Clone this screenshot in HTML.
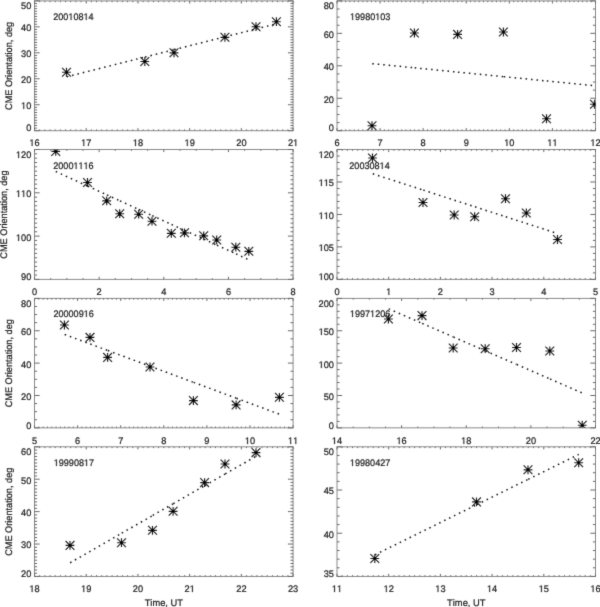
<!DOCTYPE html>
<html><head><meta charset="utf-8"><title>CME Orientation</title><style>
html,body{margin:0;padding:0;background:#fff;}
body{width:600px;height:607px;overflow:hidden;}
svg{display:block;}
#w{width:600px;height:607px;will-change:transform;}
text{font-family:"Liberation Sans",sans-serif;fill:#222;stroke:#222;stroke-width:0.22px;text-rendering:geometricPrecision;font-kerning:none;}
.ax{fill:none;stroke:#8a8a8a;stroke-width:1.0;}
.tk{fill:none;stroke:#6a6a6a;stroke-width:1.0;}
.h{fill-opacity:0;stroke-opacity:0;}
.g1{fill:#222;stroke:#222;stroke-width:0.22px;}
.xl{font-size:9.5px;text-anchor:middle;}
.yl{font-size:9.5px;text-anchor:end;}
.tt{font-size:9.5px;}
.at{font-size:9.6px;text-anchor:middle;}
.sc{fill:#000;}
.st{fill:none;stroke:#222;stroke-width:1.15;}
.dt{fill:none;stroke:#111;stroke-width:1.5;stroke-dasharray:1.5 4.0;}
</style></head>
<body><div id="w"><svg width="600" height="607" viewBox="0 0 600 607">
<defs><filter id="bl" filterUnits="userSpaceOnUse" x="0" y="0" width="600" height="607"><feConvolveMatrix order="3" kernelMatrix="0.0113 0.0838 0.0113 0.0838 0.6193 0.0838 0.0113 0.0838 0.0113" edgeMode="duplicate"/></filter><clipPath id="c0"><rect x="34.5" y="0.9" width="258.6" height="129.8"/></clipPath><clipPath id="c1"><rect x="337" y="0.9" width="258.5" height="129.8"/></clipPath><clipPath id="c2"><rect x="34.5" y="149.5" width="258.6" height="129.9"/></clipPath><clipPath id="c3"><rect x="337" y="149.5" width="258.5" height="129.9"/></clipPath><clipPath id="c4"><rect x="34.5" y="298.4" width="258.6" height="129.45"/></clipPath><clipPath id="c5"><rect x="337" y="298.4" width="258.5" height="129.45"/></clipPath><clipPath id="c6"><rect x="34.5" y="446.8" width="258.6" height="129.65"/></clipPath><clipPath id="c7"><rect x="337" y="446.8" width="258.5" height="129.65"/></clipPath></defs>
<rect width="600" height="607" fill="#fff"/>
<g filter="url(#bl)">
<rect x="34.5" y="0.9" width="258.6" height="129.8" class="ax"/><path d="M34.5 130.7v-2.6M34.5 0.9v2.6M39.67 130.7v-1.3M39.67 0.9v1.3M44.84 130.7v-1.3M44.84 0.9v1.3M50.02 130.7v-1.3M50.02 0.9v1.3M55.19 130.7v-1.3M55.19 0.9v1.3M60.36 130.7v-1.3M60.36 0.9v1.3M65.53 130.7v-1.3M65.53 0.9v1.3M70.7 130.7v-1.3M70.7 0.9v1.3M75.88 130.7v-1.3M75.88 0.9v1.3M81.05 130.7v-1.3M81.05 0.9v1.3M86.22 130.7v-2.6M86.22 0.9v2.6M91.39 130.7v-1.3M91.39 0.9v1.3M96.56 130.7v-1.3M96.56 0.9v1.3M101.74 130.7v-1.3M101.74 0.9v1.3M106.91 130.7v-1.3M106.91 0.9v1.3M112.08 130.7v-1.3M112.08 0.9v1.3M117.25 130.7v-1.3M117.25 0.9v1.3M122.42 130.7v-1.3M122.42 0.9v1.3M127.6 130.7v-1.3M127.6 0.9v1.3M132.77 130.7v-1.3M132.77 0.9v1.3M137.94 130.7v-2.6M137.94 0.9v2.6M143.11 130.7v-1.3M143.11 0.9v1.3M148.28 130.7v-1.3M148.28 0.9v1.3M153.46 130.7v-1.3M153.46 0.9v1.3M158.63 130.7v-1.3M158.63 0.9v1.3M163.8 130.7v-1.3M163.8 0.9v1.3M168.97 130.7v-1.3M168.97 0.9v1.3M174.14 130.7v-1.3M174.14 0.9v1.3M179.32 130.7v-1.3M179.32 0.9v1.3M184.49 130.7v-1.3M184.49 0.9v1.3M189.66 130.7v-2.6M189.66 0.9v2.6M194.83 130.7v-1.3M194.83 0.9v1.3M200 130.7v-1.3M200 0.9v1.3M205.18 130.7v-1.3M205.18 0.9v1.3M210.35 130.7v-1.3M210.35 0.9v1.3M215.52 130.7v-1.3M215.52 0.9v1.3M220.69 130.7v-1.3M220.69 0.9v1.3M225.86 130.7v-1.3M225.86 0.9v1.3M231.04 130.7v-1.3M231.04 0.9v1.3M236.21 130.7v-1.3M236.21 0.9v1.3M241.38 130.7v-2.6M241.38 0.9v2.6M246.55 130.7v-1.3M246.55 0.9v1.3M251.72 130.7v-1.3M251.72 0.9v1.3M256.9 130.7v-1.3M256.9 0.9v1.3M262.07 130.7v-1.3M262.07 0.9v1.3M267.24 130.7v-1.3M267.24 0.9v1.3M272.41 130.7v-1.3M272.41 0.9v1.3M277.58 130.7v-1.3M277.58 0.9v1.3M282.76 130.7v-1.3M282.76 0.9v1.3M287.93 130.7v-1.3M287.93 0.9v1.3M293.1 130.7v-2.6M293.1 0.9v2.6M34.5 130.7h5.17M293.1 130.7h-5.17M34.5 128.1h2.59M293.1 128.1h-2.59M34.5 125.51h2.59M293.1 125.51h-2.59M34.5 122.91h2.59M293.1 122.91h-2.59M34.5 120.32h2.59M293.1 120.32h-2.59M34.5 117.72h2.59M293.1 117.72h-2.59M34.5 115.12h2.59M293.1 115.12h-2.59M34.5 112.53h2.59M293.1 112.53h-2.59M34.5 109.93h2.59M293.1 109.93h-2.59M34.5 107.34h2.59M293.1 107.34h-2.59M34.5 104.74h5.17M293.1 104.74h-5.17M34.5 102.14h2.59M293.1 102.14h-2.59M34.5 99.55h2.59M293.1 99.55h-2.59M34.5 96.95h2.59M293.1 96.95h-2.59M34.5 94.36h2.59M293.1 94.36h-2.59M34.5 91.76h2.59M293.1 91.76h-2.59M34.5 89.16h2.59M293.1 89.16h-2.59M34.5 86.57h2.59M293.1 86.57h-2.59M34.5 83.97h2.59M293.1 83.97h-2.59M34.5 81.38h2.59M293.1 81.38h-2.59M34.5 78.78h5.17M293.1 78.78h-5.17M34.5 76.18h2.59M293.1 76.18h-2.59M34.5 73.59h2.59M293.1 73.59h-2.59M34.5 70.99h2.59M293.1 70.99h-2.59M34.5 68.4h2.59M293.1 68.4h-2.59M34.5 65.8h2.59M293.1 65.8h-2.59M34.5 63.2h2.59M293.1 63.2h-2.59M34.5 60.61h2.59M293.1 60.61h-2.59M34.5 58.01h2.59M293.1 58.01h-2.59M34.5 55.42h2.59M293.1 55.42h-2.59M34.5 52.82h5.17M293.1 52.82h-5.17M34.5 50.22h2.59M293.1 50.22h-2.59M34.5 47.63h2.59M293.1 47.63h-2.59M34.5 45.03h2.59M293.1 45.03h-2.59M34.5 42.44h2.59M293.1 42.44h-2.59M34.5 39.84h2.59M293.1 39.84h-2.59M34.5 37.24h2.59M293.1 37.24h-2.59M34.5 34.65h2.59M293.1 34.65h-2.59M34.5 32.05h2.59M293.1 32.05h-2.59M34.5 29.46h2.59M293.1 29.46h-2.59M34.5 26.86h5.17M293.1 26.86h-5.17M34.5 24.26h2.59M293.1 24.26h-2.59M34.5 21.67h2.59M293.1 21.67h-2.59M34.5 19.07h2.59M293.1 19.07h-2.59M34.5 16.48h2.59M293.1 16.48h-2.59M34.5 13.88h2.59M293.1 13.88h-2.59M34.5 11.28h2.59M293.1 11.28h-2.59M34.5 8.69h2.59M293.1 8.69h-2.59M34.5 6.09h2.59M293.1 6.09h-2.59M34.5 3.5h2.59M293.1 3.5h-2.59M34.5 0.9h5.17M293.1 0.9h-5.17" class="tk"/><g transform="matrix(0.97 0 0 1 34.5 146)"><text class="xl"><tspan class="h">1</tspan>6</text><path d="M-2.892 0.000L-2.892 -5.738L-4.367 -4.685L-4.367 -5.474L-2.823 -6.536L-2.053 -6.536L-2.053 0.000Z" class="g1"/></g><g transform="matrix(0.97 0 0 1 86.22 146)"><text class="xl"><tspan class="h">1</tspan>7</text><path d="M-2.892 0.000L-2.892 -5.738L-4.367 -4.685L-4.367 -5.474L-2.823 -6.536L-2.053 -6.536L-2.053 0.000Z" class="g1"/></g><g transform="matrix(0.97 0 0 1 137.94 146)"><text class="xl"><tspan class="h">1</tspan>8</text><path d="M-2.892 0.000L-2.892 -5.738L-4.367 -4.685L-4.367 -5.474L-2.823 -6.536L-2.053 -6.536L-2.053 0.000Z" class="g1"/></g><g transform="matrix(0.97 0 0 1 189.66 146)"><text class="xl"><tspan class="h">1</tspan>9</text><path d="M-2.892 0.000L-2.892 -5.738L-4.367 -4.685L-4.367 -5.474L-2.823 -6.536L-2.053 -6.536L-2.053 0.000Z" class="g1"/></g><text transform="matrix(0.97 0 0 1 241.38 146)" class="xl">20</text><g transform="matrix(0.97 0 0 1 293.1 146)"><text class="xl">2<tspan class="h">1</tspan></text><path d="M2.389 0.000L2.389 -5.738L0.914 -4.685L0.914 -5.474L2.458 -6.536L3.229 -6.536L3.229 0.000Z" class="g1"/></g><text transform="matrix(0.97 0 0 1 31.3 131.42)" class="yl">0</text><g transform="matrix(0.97 0 0 1 31.3 109)"><text class="yl"><tspan class="h">1</tspan>0</text><path d="M-8.174 0.000L-8.174 -5.738L-9.649 -4.685L-9.649 -5.474L-8.104 -6.536L-7.334 -6.536L-7.334 0.000Z" class="g1"/></g><text transform="matrix(0.97 0 0 1 31.3 83.2)" class="yl">20</text><text transform="matrix(0.97 0 0 1 31.3 57.24)" class="yl">30</text><text transform="matrix(0.97 0 0 1 31.3 31.28)" class="yl">40</text><text transform="matrix(0.97 0 0 1 31.3 9.02)" class="yl">50</text><g transform="matrix(0.955 0 0 1 53.25 20)"><text class="tt">200<tspan class="h">1</tspan>08<tspan class="h">1</tspan>4</text><path d="M18.233 0.000L18.233 -5.738L16.758 -4.685L16.758 -5.474L18.302 -6.536L19.072 -6.536L19.072 0.000ZM34.076 0.000L34.076 -5.738L32.601 -4.685L32.601 -5.474L34.146 -6.536L34.916 -6.536L34.916 0.000Z" class="g1"/></g><g clip-path="url(#c0)"><g class="dt" stroke-dashoffset="5.20"><line x1="66.5" y1="76.83" x2="144.8" y2="57.07"/><line x1="144.8" y1="57.07" x2="174" y2="49.71"/><line x1="174" y1="49.71" x2="224.9" y2="36.86"/><line x1="224.9" y1="36.86" x2="256" y2="29.02"/><line x1="256" y1="29.02" x2="276.4" y2="23.87"/></g><path d="M62.1 72.25h8.8M66.5 67.85v8.8M62.1 67.85l8.8 8.8M62.1 76.65l8.8 -8.8M140.4 61.5h8.8M144.8 57.1v8.8M140.4 57.1l8.8 8.8M140.4 65.9l8.8 -8.8M169.6 52.8h8.8M174 48.4v8.8M169.6 48.4l8.8 8.8M169.6 57.2l8.8 -8.8M220.5 37.3h8.8M224.9 32.9v8.8M220.5 32.9l8.8 8.8M220.5 41.7l8.8 -8.8M251.6 26.7h8.8M256 22.3v8.8M251.6 22.3l8.8 8.8M251.6 31.1l8.8 -8.8M272 21.7h8.8M276.4 17.3v8.8M272 17.3l8.8 8.8M272 26.1l8.8 -8.8" class="st"/><circle cx="66.5" cy="72.25" r="1.3" class="sc"/><circle cx="144.8" cy="61.5" r="1.3" class="sc"/><circle cx="174" cy="52.8" r="1.3" class="sc"/><circle cx="224.9" cy="37.3" r="1.3" class="sc"/><circle cx="256" cy="26.7" r="1.3" class="sc"/><circle cx="276.4" cy="21.7" r="1.3" class="sc"/></g><text transform="translate(11.85 65.9) rotate(-90) scale(0.956 1)" class="at">CME Orientation, deg</text>
<rect x="337" y="0.9" width="258.5" height="129.8" class="ax"/><path d="M337 130.7v-2.6M337 0.9v2.6M341.31 130.7v-1.3M341.31 0.9v1.3M345.62 130.7v-1.3M345.62 0.9v1.3M349.93 130.7v-1.3M349.93 0.9v1.3M354.23 130.7v-1.3M354.23 0.9v1.3M358.54 130.7v-1.3M358.54 0.9v1.3M362.85 130.7v-1.3M362.85 0.9v1.3M367.16 130.7v-1.3M367.16 0.9v1.3M371.47 130.7v-1.3M371.47 0.9v1.3M375.78 130.7v-1.3M375.78 0.9v1.3M380.08 130.7v-2.6M380.08 0.9v2.6M384.39 130.7v-1.3M384.39 0.9v1.3M388.7 130.7v-1.3M388.7 0.9v1.3M393.01 130.7v-1.3M393.01 0.9v1.3M397.32 130.7v-1.3M397.32 0.9v1.3M401.62 130.7v-1.3M401.62 0.9v1.3M405.93 130.7v-1.3M405.93 0.9v1.3M410.24 130.7v-1.3M410.24 0.9v1.3M414.55 130.7v-1.3M414.55 0.9v1.3M418.86 130.7v-1.3M418.86 0.9v1.3M423.17 130.7v-2.6M423.17 0.9v2.6M427.47 130.7v-1.3M427.47 0.9v1.3M431.78 130.7v-1.3M431.78 0.9v1.3M436.09 130.7v-1.3M436.09 0.9v1.3M440.4 130.7v-1.3M440.4 0.9v1.3M444.71 130.7v-1.3M444.71 0.9v1.3M449.02 130.7v-1.3M449.02 0.9v1.3M453.32 130.7v-1.3M453.32 0.9v1.3M457.63 130.7v-1.3M457.63 0.9v1.3M461.94 130.7v-1.3M461.94 0.9v1.3M466.25 130.7v-2.6M466.25 0.9v2.6M470.56 130.7v-1.3M470.56 0.9v1.3M474.87 130.7v-1.3M474.87 0.9v1.3M479.18 130.7v-1.3M479.18 0.9v1.3M483.48 130.7v-1.3M483.48 0.9v1.3M487.79 130.7v-1.3M487.79 0.9v1.3M492.1 130.7v-1.3M492.1 0.9v1.3M496.41 130.7v-1.3M496.41 0.9v1.3M500.72 130.7v-1.3M500.72 0.9v1.3M505.02 130.7v-1.3M505.02 0.9v1.3M509.33 130.7v-2.6M509.33 0.9v2.6M513.64 130.7v-1.3M513.64 0.9v1.3M517.95 130.7v-1.3M517.95 0.9v1.3M522.26 130.7v-1.3M522.26 0.9v1.3M526.57 130.7v-1.3M526.57 0.9v1.3M530.88 130.7v-1.3M530.88 0.9v1.3M535.18 130.7v-1.3M535.18 0.9v1.3M539.49 130.7v-1.3M539.49 0.9v1.3M543.8 130.7v-1.3M543.8 0.9v1.3M548.11 130.7v-1.3M548.11 0.9v1.3M552.42 130.7v-2.6M552.42 0.9v2.6M556.73 130.7v-1.3M556.73 0.9v1.3M561.03 130.7v-1.3M561.03 0.9v1.3M565.34 130.7v-1.3M565.34 0.9v1.3M569.65 130.7v-1.3M569.65 0.9v1.3M573.96 130.7v-1.3M573.96 0.9v1.3M578.27 130.7v-1.3M578.27 0.9v1.3M582.57 130.7v-1.3M582.57 0.9v1.3M586.88 130.7v-1.3M586.88 0.9v1.3M591.19 130.7v-1.3M591.19 0.9v1.3M595.5 130.7v-2.6M595.5 0.9v2.6M337 130.7h5.17M595.5 130.7h-5.17M337 122.59h2.58M595.5 122.59h-2.58M337 114.47h2.58M595.5 114.47h-2.58M337 106.36h2.58M595.5 106.36h-2.58M337 98.25h5.17M595.5 98.25h-5.17M337 90.14h2.58M595.5 90.14h-2.58M337 82.02h2.58M595.5 82.02h-2.58M337 73.91h2.58M595.5 73.91h-2.58M337 65.8h5.17M595.5 65.8h-5.17M337 57.69h2.58M595.5 57.69h-2.58M337 49.58h2.58M595.5 49.58h-2.58M337 41.46h2.58M595.5 41.46h-2.58M337 33.35h5.17M595.5 33.35h-5.17M337 25.24h2.58M595.5 25.24h-2.58M337 17.12h2.58M595.5 17.12h-2.58M337 9.01h2.58M595.5 9.01h-2.58M337 0.9h5.17M595.5 0.9h-5.17" class="tk"/><text transform="matrix(0.97 0 0 1 337 146)" class="xl">6</text><text transform="matrix(0.97 0 0 1 380.08 146)" class="xl">7</text><text transform="matrix(0.97 0 0 1 423.17 146)" class="xl">8</text><text transform="matrix(0.97 0 0 1 466.25 146)" class="xl">9</text><g transform="matrix(0.97 0 0 1 509.33 146)"><text class="xl"><tspan class="h">1</tspan>0</text><path d="M-2.892 0.000L-2.892 -5.738L-4.367 -4.685L-4.367 -5.474L-2.823 -6.536L-2.053 -6.536L-2.053 0.000Z" class="g1"/></g><g transform="matrix(0.97 0 0 1 552.42 146)"><text class="xl"><tspan class="h">1</tspan><tspan class="h">1</tspan></text><path d="M-2.892 0.000L-2.892 -5.738L-4.367 -4.685L-4.367 -5.474L-2.823 -6.536L-2.053 -6.536L-2.053 0.000ZM2.389 0.000L2.389 -5.738L0.914 -4.685L0.914 -5.474L2.458 -6.536L3.229 -6.536L3.229 0.000Z" class="g1"/></g><g transform="matrix(0.97 0 0 1 595.5 146)"><text class="xl"><tspan class="h">1</tspan>2</text><path d="M-2.892 0.000L-2.892 -5.738L-4.367 -4.685L-4.367 -5.474L-2.823 -6.536L-2.053 -6.536L-2.053 0.000Z" class="g1"/></g><text transform="matrix(0.97 0 0 1 334 131.42)" class="yl">0</text><text transform="matrix(0.97 0 0 1 334 102.67)" class="yl">20</text><text transform="matrix(0.97 0 0 1 334 70.22)" class="yl">40</text><text transform="matrix(0.97 0 0 1 334 37.77)" class="yl">60</text><text transform="matrix(0.97 0 0 1 334 9.02)" class="yl">80</text><g transform="matrix(0.955 0 0 1 350 20)"><text class="tt"><tspan class="h">1</tspan>9980<tspan class="h">1</tspan>03</text><path d="M2.389 0.000L2.389 -5.738L0.914 -4.685L0.914 -5.474L2.458 -6.536L3.229 -6.536L3.229 0.000ZM28.795 0.000L28.795 -5.738L27.320 -4.685L27.320 -5.474L28.865 -6.536L29.635 -6.536L29.635 0.000Z" class="g1"/></g><g clip-path="url(#c1)"><g class="dt" stroke-dashoffset="5.20"><line x1="372" y1="63.6" x2="414.4" y2="67.81"/><line x1="414.4" y1="67.81" x2="457.6" y2="72.1"/><line x1="457.6" y1="72.1" x2="503.4" y2="76.65"/><line x1="503.4" y1="76.65" x2="546.5" y2="80.93"/><line x1="546.5" y1="80.93" x2="595.5" y2="85.8"/></g><path d="M367.6 125.7h8.8M372 121.3v8.8M367.6 121.3l8.8 8.8M367.6 130.1l8.8 -8.8M410 33h8.8M414.4 28.6v8.8M410 28.6l8.8 8.8M410 37.4l8.8 -8.8M453.2 34.4h8.8M457.6 30v8.8M453.2 30l8.8 8.8M453.2 38.8l8.8 -8.8M499 32h8.8M503.4 27.6v8.8M499 27.6l8.8 8.8M499 36.4l8.8 -8.8M542.1 118.75h8.8M546.5 114.35v8.8M542.1 114.35l8.8 8.8M542.1 123.15l8.8 -8.8M590.1 104.25h8.8M594.5 99.85v8.8M590.1 99.85l8.8 8.8M590.1 108.65l8.8 -8.8" class="st"/><circle cx="372" cy="125.7" r="1.3" class="sc"/><circle cx="414.4" cy="33" r="1.3" class="sc"/><circle cx="457.6" cy="34.4" r="1.3" class="sc"/><circle cx="503.4" cy="32" r="1.3" class="sc"/><circle cx="546.5" cy="118.75" r="1.3" class="sc"/><circle cx="594.5" cy="104.25" r="1.3" class="sc"/></g>
<rect x="34.5" y="149.5" width="258.6" height="129.9" class="ax"/><path d="M34.5 279.4v-2.6M34.5 149.5v2.6M50.66 279.4v-1.3M50.66 149.5v1.3M66.83 279.4v-1.3M66.83 149.5v1.3M82.99 279.4v-1.3M82.99 149.5v1.3M99.15 279.4v-2.6M99.15 149.5v2.6M115.31 279.4v-1.3M115.31 149.5v1.3M131.48 279.4v-1.3M131.48 149.5v1.3M147.64 279.4v-1.3M147.64 149.5v1.3M163.8 279.4v-2.6M163.8 149.5v2.6M179.96 279.4v-1.3M179.96 149.5v1.3M196.12 279.4v-1.3M196.12 149.5v1.3M212.29 279.4v-1.3M212.29 149.5v1.3M228.45 279.4v-2.6M228.45 149.5v2.6M244.61 279.4v-1.3M244.61 149.5v1.3M260.78 279.4v-1.3M260.78 149.5v1.3M276.94 279.4v-1.3M276.94 149.5v1.3M293.1 279.4v-2.6M293.1 149.5v2.6M34.5 279.4h5.17M293.1 279.4h-5.17M34.5 275.07h2.59M293.1 275.07h-2.59M34.5 270.74h2.59M293.1 270.74h-2.59M34.5 266.41h2.59M293.1 266.41h-2.59M34.5 262.08h2.59M293.1 262.08h-2.59M34.5 257.75h2.59M293.1 257.75h-2.59M34.5 253.42h2.59M293.1 253.42h-2.59M34.5 249.09h2.59M293.1 249.09h-2.59M34.5 244.76h2.59M293.1 244.76h-2.59M34.5 240.43h2.59M293.1 240.43h-2.59M34.5 236.1h5.17M293.1 236.1h-5.17M34.5 231.77h2.59M293.1 231.77h-2.59M34.5 227.44h2.59M293.1 227.44h-2.59M34.5 223.11h2.59M293.1 223.11h-2.59M34.5 218.78h2.59M293.1 218.78h-2.59M34.5 214.45h2.59M293.1 214.45h-2.59M34.5 210.12h2.59M293.1 210.12h-2.59M34.5 205.79h2.59M293.1 205.79h-2.59M34.5 201.46h2.59M293.1 201.46h-2.59M34.5 197.13h2.59M293.1 197.13h-2.59M34.5 192.8h5.17M293.1 192.8h-5.17M34.5 188.47h2.59M293.1 188.47h-2.59M34.5 184.14h2.59M293.1 184.14h-2.59M34.5 179.81h2.59M293.1 179.81h-2.59M34.5 175.48h2.59M293.1 175.48h-2.59M34.5 171.15h2.59M293.1 171.15h-2.59M34.5 166.82h2.59M293.1 166.82h-2.59M34.5 162.49h2.59M293.1 162.49h-2.59M34.5 158.16h2.59M293.1 158.16h-2.59M34.5 153.83h2.59M293.1 153.83h-2.59M34.5 149.5h5.17M293.1 149.5h-5.17" class="tk"/><text transform="matrix(0.97 0 0 1 34.5 295)" class="xl">0</text><text transform="matrix(0.97 0 0 1 99.15 295)" class="xl">2</text><text transform="matrix(0.97 0 0 1 163.8 295)" class="xl">4</text><text transform="matrix(0.97 0 0 1 228.45 295)" class="xl">6</text><text transform="matrix(0.97 0 0 1 293.1 295)" class="xl">8</text><text transform="matrix(0.97 0 0 1 31.3 280.12)" class="yl">90</text><g transform="matrix(0.97 0 0 1 31.3 241)"><text class="yl"><tspan class="h">1</tspan>00</text><path d="M-13.455 0.000L-13.455 -5.738L-14.930 -4.685L-14.930 -5.474L-13.385 -6.536L-12.615 -6.536L-12.615 0.000Z" class="g1"/></g><g transform="matrix(0.97 0 0 1 31.3 197)"><text class="yl"><tspan class="h">1</tspan><tspan class="h">1</tspan>0</text><path d="M-13.455 0.000L-13.455 -5.738L-14.930 -4.685L-14.930 -5.474L-13.385 -6.536L-12.615 -6.536L-12.615 0.000ZM-8.174 0.000L-8.174 -5.738L-9.649 -4.685L-9.649 -5.474L-8.104 -6.536L-7.334 -6.536L-7.334 0.000Z" class="g1"/></g><g transform="matrix(0.97 0 0 1 31.3 158)"><text class="yl"><tspan class="h">1</tspan>20</text><path d="M-13.455 0.000L-13.455 -5.738L-14.930 -4.685L-14.930 -5.474L-13.385 -6.536L-12.615 -6.536L-12.615 0.000Z" class="g1"/></g><g transform="matrix(0.955 0 0 1 53.25 169)"><text class="tt">2000<tspan class="h">1</tspan><tspan class="h">1</tspan><tspan class="h">1</tspan>6</text><path d="M23.514 0.000L23.514 -5.738L22.039 -4.685L22.039 -5.474L23.583 -6.536L24.354 -6.536L24.354 0.000ZM28.795 0.000L28.795 -5.738L27.320 -4.685L27.320 -5.474L28.865 -6.536L29.635 -6.536L29.635 0.000ZM34.076 0.000L34.076 -5.738L32.601 -4.685L32.601 -5.474L34.146 -6.536L34.916 -6.536L34.916 0.000Z" class="g1"/></g><g clip-path="url(#c2)"><g class="dt" stroke-dashoffset="5.20"><line x1="55.5" y1="171.4" x2="87.5" y2="186.02"/><line x1="87.5" y1="186.02" x2="106.7" y2="194.8"/><line x1="106.7" y1="194.8" x2="119.7" y2="200.74"/><line x1="119.7" y1="200.74" x2="138.7" y2="209.42"/><line x1="138.7" y1="209.42" x2="152" y2="215.5"/><line x1="152" y1="215.5" x2="171.3" y2="224.32"/><line x1="171.3" y1="224.32" x2="184.5" y2="230.35"/><line x1="184.5" y1="230.35" x2="203.7" y2="239.13"/><line x1="203.7" y1="239.13" x2="216.7" y2="245.07"/><line x1="216.7" y1="245.07" x2="235.8" y2="253.8"/><line x1="235.8" y1="253.8" x2="248.5" y2="259.6"/></g><path d="M51.35 151.4h8.8M55.75 147v8.8M51.35 147l8.8 8.8M51.35 155.8l8.8 -8.8M83.1 182.5h8.8M87.5 178.1v8.8M83.1 178.1l8.8 8.8M83.1 186.9l8.8 -8.8M102.3 200.8h8.8M106.7 196.4v8.8M102.3 196.4l8.8 8.8M102.3 205.2l8.8 -8.8M115.3 213.7h8.8M119.7 209.3v8.8M115.3 209.3l8.8 8.8M115.3 218.1l8.8 -8.8M134.3 214.2h8.8M138.7 209.8v8.8M134.3 209.8l8.8 8.8M134.3 218.6l8.8 -8.8M147.6 221.2h8.8M152 216.8v8.8M147.6 216.8l8.8 8.8M147.6 225.6l8.8 -8.8M166.9 233.3h8.8M171.3 228.9v8.8M166.9 228.9l8.8 8.8M166.9 237.7l8.8 -8.8M180.1 232.8h8.8M184.5 228.4v8.8M180.1 228.4l8.8 8.8M180.1 237.2l8.8 -8.8M199.3 235.8h8.8M203.7 231.4v8.8M199.3 231.4l8.8 8.8M199.3 240.2l8.8 -8.8M212.3 240h8.8M216.7 235.6v8.8M212.3 235.6l8.8 8.8M212.3 244.4l8.8 -8.8M231.4 247.2h8.8M235.8 242.8v8.8M231.4 242.8l8.8 8.8M231.4 251.6l8.8 -8.8M244.4 251.3h8.8M248.8 246.9v8.8M244.4 246.9l8.8 8.8M244.4 255.7l8.8 -8.8" class="st"/><circle cx="55.75" cy="151.4" r="1.3" class="sc"/><circle cx="87.5" cy="182.5" r="1.3" class="sc"/><circle cx="106.7" cy="200.8" r="1.3" class="sc"/><circle cx="119.7" cy="213.7" r="1.3" class="sc"/><circle cx="138.7" cy="214.2" r="1.3" class="sc"/><circle cx="152" cy="221.2" r="1.3" class="sc"/><circle cx="171.3" cy="233.3" r="1.3" class="sc"/><circle cx="184.5" cy="232.8" r="1.3" class="sc"/><circle cx="203.7" cy="235.8" r="1.3" class="sc"/><circle cx="216.7" cy="240" r="1.3" class="sc"/><circle cx="235.8" cy="247.2" r="1.3" class="sc"/><circle cx="248.8" cy="251.3" r="1.3" class="sc"/></g><text transform="translate(6.9 214.55) rotate(-90) scale(0.956 1)" class="at">CME Orientation, deg</text>
<rect x="337" y="149.5" width="258.5" height="129.9" class="ax"/><path d="M337 279.4v-2.6M337 149.5v2.6M342.17 279.4v-1.3M342.17 149.5v1.3M347.34 279.4v-1.3M347.34 149.5v1.3M352.51 279.4v-1.3M352.51 149.5v1.3M357.68 279.4v-1.3M357.68 149.5v1.3M362.85 279.4v-1.3M362.85 149.5v1.3M368.02 279.4v-1.3M368.02 149.5v1.3M373.19 279.4v-1.3M373.19 149.5v1.3M378.36 279.4v-1.3M378.36 149.5v1.3M383.53 279.4v-1.3M383.53 149.5v1.3M388.7 279.4v-2.6M388.7 149.5v2.6M393.87 279.4v-1.3M393.87 149.5v1.3M399.04 279.4v-1.3M399.04 149.5v1.3M404.21 279.4v-1.3M404.21 149.5v1.3M409.38 279.4v-1.3M409.38 149.5v1.3M414.55 279.4v-1.3M414.55 149.5v1.3M419.72 279.4v-1.3M419.72 149.5v1.3M424.89 279.4v-1.3M424.89 149.5v1.3M430.06 279.4v-1.3M430.06 149.5v1.3M435.23 279.4v-1.3M435.23 149.5v1.3M440.4 279.4v-2.6M440.4 149.5v2.6M445.57 279.4v-1.3M445.57 149.5v1.3M450.74 279.4v-1.3M450.74 149.5v1.3M455.91 279.4v-1.3M455.91 149.5v1.3M461.08 279.4v-1.3M461.08 149.5v1.3M466.25 279.4v-1.3M466.25 149.5v1.3M471.42 279.4v-1.3M471.42 149.5v1.3M476.59 279.4v-1.3M476.59 149.5v1.3M481.76 279.4v-1.3M481.76 149.5v1.3M486.93 279.4v-1.3M486.93 149.5v1.3M492.1 279.4v-2.6M492.1 149.5v2.6M497.27 279.4v-1.3M497.27 149.5v1.3M502.44 279.4v-1.3M502.44 149.5v1.3M507.61 279.4v-1.3M507.61 149.5v1.3M512.78 279.4v-1.3M512.78 149.5v1.3M517.95 279.4v-1.3M517.95 149.5v1.3M523.12 279.4v-1.3M523.12 149.5v1.3M528.29 279.4v-1.3M528.29 149.5v1.3M533.46 279.4v-1.3M533.46 149.5v1.3M538.63 279.4v-1.3M538.63 149.5v1.3M543.8 279.4v-2.6M543.8 149.5v2.6M548.97 279.4v-1.3M548.97 149.5v1.3M554.14 279.4v-1.3M554.14 149.5v1.3M559.31 279.4v-1.3M559.31 149.5v1.3M564.48 279.4v-1.3M564.48 149.5v1.3M569.65 279.4v-1.3M569.65 149.5v1.3M574.82 279.4v-1.3M574.82 149.5v1.3M579.99 279.4v-1.3M579.99 149.5v1.3M585.16 279.4v-1.3M585.16 149.5v1.3M590.33 279.4v-1.3M590.33 149.5v1.3M595.5 279.4v-2.6M595.5 149.5v2.6M337 279.4h5.17M595.5 279.4h-5.17M337 272.9h2.58M595.5 272.9h-2.58M337 266.41h2.58M595.5 266.41h-2.58M337 259.91h2.58M595.5 259.91h-2.58M337 253.42h2.58M595.5 253.42h-2.58M337 246.92h5.17M595.5 246.92h-5.17M337 240.43h2.58M595.5 240.43h-2.58M337 233.94h2.58M595.5 233.94h-2.58M337 227.44h2.58M595.5 227.44h-2.58M337 220.94h2.58M595.5 220.94h-2.58M337 214.45h5.17M595.5 214.45h-5.17M337 207.95h2.58M595.5 207.95h-2.58M337 201.46h2.58M595.5 201.46h-2.58M337 194.96h2.58M595.5 194.96h-2.58M337 188.47h2.58M595.5 188.47h-2.58M337 181.97h5.17M595.5 181.97h-5.17M337 175.48h2.58M595.5 175.48h-2.58M337 168.99h2.58M595.5 168.99h-2.58M337 162.49h2.58M595.5 162.49h-2.58M337 156h2.58M595.5 156h-2.58M337 149.5h5.17M595.5 149.5h-5.17" class="tk"/><text transform="matrix(0.97 0 0 1 337 295)" class="xl">0</text><g transform="matrix(0.97 0 0 1 388.7 295)"><text class="xl"><tspan class="h">1</tspan></text><path d="M-0.252 0.000L-0.252 -5.738L-1.727 -4.685L-1.727 -5.474L-0.182 -6.536L0.588 -6.536L0.588 0.000Z" class="g1"/></g><text transform="matrix(0.97 0 0 1 440.4 295)" class="xl">2</text><text transform="matrix(0.97 0 0 1 492.1 295)" class="xl">3</text><text transform="matrix(0.97 0 0 1 543.8 295)" class="xl">4</text><text transform="matrix(0.97 0 0 1 595.5 295)" class="xl">5</text><g transform="matrix(0.97 0 0 1 334 280)"><text class="yl"><tspan class="h">1</tspan>00</text><path d="M-13.455 0.000L-13.455 -5.738L-14.930 -4.685L-14.930 -5.474L-13.385 -6.536L-12.615 -6.536L-12.615 0.000Z" class="g1"/></g><g transform="matrix(0.97 0 0 1 334 251)"><text class="yl"><tspan class="h">1</tspan>05</text><path d="M-13.455 0.000L-13.455 -5.738L-14.930 -4.685L-14.930 -5.474L-13.385 -6.536L-12.615 -6.536L-12.615 0.000Z" class="g1"/></g><g transform="matrix(0.97 0 0 1 334 219)"><text class="yl"><tspan class="h">1</tspan><tspan class="h">1</tspan>0</text><path d="M-13.455 0.000L-13.455 -5.738L-14.930 -4.685L-14.930 -5.474L-13.385 -6.536L-12.615 -6.536L-12.615 0.000ZM-8.174 0.000L-8.174 -5.738L-9.649 -4.685L-9.649 -5.474L-8.104 -6.536L-7.334 -6.536L-7.334 0.000Z" class="g1"/></g><g transform="matrix(0.97 0 0 1 334 186)"><text class="yl"><tspan class="h">1</tspan><tspan class="h">1</tspan>5</text><path d="M-13.455 0.000L-13.455 -5.738L-14.930 -4.685L-14.930 -5.474L-13.385 -6.536L-12.615 -6.536L-12.615 0.000ZM-8.174 0.000L-8.174 -5.738L-9.649 -4.685L-9.649 -5.474L-8.104 -6.536L-7.334 -6.536L-7.334 0.000Z" class="g1"/></g><g transform="matrix(0.97 0 0 1 334 158)"><text class="yl"><tspan class="h">1</tspan>20</text><path d="M-13.455 0.000L-13.455 -5.738L-14.930 -4.685L-14.930 -5.474L-13.385 -6.536L-12.615 -6.536L-12.615 0.000Z" class="g1"/></g><g transform="matrix(0.955 0 0 1 349.3 169)"><text class="tt">200308<tspan class="h">1</tspan>4</text><path d="M34.076 0.000L34.076 -5.738L32.601 -4.685L32.601 -5.474L34.146 -6.536L34.916 -6.536L34.916 0.000Z" class="g1"/></g><g clip-path="url(#c3)"><g class="dt" stroke-dashoffset="5.20"><line x1="372.5" y1="173.7" x2="423" y2="190.02"/><line x1="423" y1="190.02" x2="454.2" y2="200.11"/><line x1="454.2" y1="200.11" x2="474.7" y2="206.74"/><line x1="474.7" y1="206.74" x2="505.5" y2="216.69"/><line x1="505.5" y1="216.69" x2="526.3" y2="223.41"/><line x1="526.3" y1="223.41" x2="557.5" y2="233.5"/></g><path d="M368.1 158h8.8M372.5 153.6v8.8M368.1 153.6l8.8 8.8M368.1 162.4l8.8 -8.8M418.6 202.5h8.8M423 198.1v8.8M418.6 198.1l8.8 8.8M418.6 206.9l8.8 -8.8M449.8 215h8.8M454.2 210.6v8.8M449.8 210.6l8.8 8.8M449.8 219.4l8.8 -8.8M470.3 216.7h8.8M474.7 212.3v8.8M470.3 212.3l8.8 8.8M470.3 221.1l8.8 -8.8M501.1 198.7h8.8M505.5 194.3v8.8M501.1 194.3l8.8 8.8M501.1 203.1l8.8 -8.8M521.9 213h8.8M526.3 208.6v8.8M521.9 208.6l8.8 8.8M521.9 217.4l8.8 -8.8M553.1 239.5h8.8M557.5 235.1v8.8M553.1 235.1l8.8 8.8M553.1 243.9l8.8 -8.8" class="st"/><circle cx="372.5" cy="158" r="1.3" class="sc"/><circle cx="423" cy="202.5" r="1.3" class="sc"/><circle cx="454.2" cy="215" r="1.3" class="sc"/><circle cx="474.7" cy="216.7" r="1.3" class="sc"/><circle cx="505.5" cy="198.7" r="1.3" class="sc"/><circle cx="526.3" cy="213" r="1.3" class="sc"/><circle cx="557.5" cy="239.5" r="1.3" class="sc"/></g>
<rect x="34.5" y="298.4" width="258.6" height="129.45" class="ax"/><path d="M34.5 427.85v-2.59M34.5 298.4v2.59M38.81 427.85v-1.29M38.81 298.4v1.29M43.12 427.85v-1.29M43.12 298.4v1.29M47.43 427.85v-1.29M47.43 298.4v1.29M51.74 427.85v-1.29M51.74 298.4v1.29M56.05 427.85v-1.29M56.05 298.4v1.29M60.36 427.85v-1.29M60.36 298.4v1.29M64.67 427.85v-1.29M64.67 298.4v1.29M68.98 427.85v-1.29M68.98 298.4v1.29M73.29 427.85v-1.29M73.29 298.4v1.29M77.6 427.85v-2.59M77.6 298.4v2.59M81.91 427.85v-1.29M81.91 298.4v1.29M86.22 427.85v-1.29M86.22 298.4v1.29M90.53 427.85v-1.29M90.53 298.4v1.29M94.84 427.85v-1.29M94.84 298.4v1.29M99.15 427.85v-1.29M99.15 298.4v1.29M103.46 427.85v-1.29M103.46 298.4v1.29M107.77 427.85v-1.29M107.77 298.4v1.29M112.08 427.85v-1.29M112.08 298.4v1.29M116.39 427.85v-1.29M116.39 298.4v1.29M120.7 427.85v-2.59M120.7 298.4v2.59M125.01 427.85v-1.29M125.01 298.4v1.29M129.32 427.85v-1.29M129.32 298.4v1.29M133.63 427.85v-1.29M133.63 298.4v1.29M137.94 427.85v-1.29M137.94 298.4v1.29M142.25 427.85v-1.29M142.25 298.4v1.29M146.56 427.85v-1.29M146.56 298.4v1.29M150.87 427.85v-1.29M150.87 298.4v1.29M155.18 427.85v-1.29M155.18 298.4v1.29M159.49 427.85v-1.29M159.49 298.4v1.29M163.8 427.85v-2.59M163.8 298.4v2.59M168.11 427.85v-1.29M168.11 298.4v1.29M172.42 427.85v-1.29M172.42 298.4v1.29M176.73 427.85v-1.29M176.73 298.4v1.29M181.04 427.85v-1.29M181.04 298.4v1.29M185.35 427.85v-1.29M185.35 298.4v1.29M189.66 427.85v-1.29M189.66 298.4v1.29M193.97 427.85v-1.29M193.97 298.4v1.29M198.28 427.85v-1.29M198.28 298.4v1.29M202.59 427.85v-1.29M202.59 298.4v1.29M206.9 427.85v-2.59M206.9 298.4v2.59M211.21 427.85v-1.29M211.21 298.4v1.29M215.52 427.85v-1.29M215.52 298.4v1.29M219.83 427.85v-1.29M219.83 298.4v1.29M224.14 427.85v-1.29M224.14 298.4v1.29M228.45 427.85v-1.29M228.45 298.4v1.29M232.76 427.85v-1.29M232.76 298.4v1.29M237.07 427.85v-1.29M237.07 298.4v1.29M241.38 427.85v-1.29M241.38 298.4v1.29M245.69 427.85v-1.29M245.69 298.4v1.29M250 427.85v-2.59M250 298.4v2.59M254.31 427.85v-1.29M254.31 298.4v1.29M258.62 427.85v-1.29M258.62 298.4v1.29M262.93 427.85v-1.29M262.93 298.4v1.29M267.24 427.85v-1.29M267.24 298.4v1.29M271.55 427.85v-1.29M271.55 298.4v1.29M275.86 427.85v-1.29M275.86 298.4v1.29M280.17 427.85v-1.29M280.17 298.4v1.29M284.48 427.85v-1.29M284.48 298.4v1.29M288.79 427.85v-1.29M288.79 298.4v1.29M293.1 427.85v-2.59M293.1 298.4v2.59M34.5 427.85h5.17M293.1 427.85h-5.17M34.5 419.76h2.59M293.1 419.76h-2.59M34.5 411.67h2.59M293.1 411.67h-2.59M34.5 403.58h2.59M293.1 403.58h-2.59M34.5 395.49h5.17M293.1 395.49h-5.17M34.5 387.4h2.59M293.1 387.4h-2.59M34.5 379.31h2.59M293.1 379.31h-2.59M34.5 371.22h2.59M293.1 371.22h-2.59M34.5 363.12h5.17M293.1 363.12h-5.17M34.5 355.03h2.59M293.1 355.03h-2.59M34.5 346.94h2.59M293.1 346.94h-2.59M34.5 338.85h2.59M293.1 338.85h-2.59M34.5 330.76h5.17M293.1 330.76h-5.17M34.5 322.67h2.59M293.1 322.67h-2.59M34.5 314.58h2.59M293.1 314.58h-2.59M34.5 306.49h2.59M293.1 306.49h-2.59M34.5 298.4h5.17M293.1 298.4h-5.17" class="tk"/><text transform="matrix(0.97 0 0 1 34.5 444)" class="xl">5</text><text transform="matrix(0.97 0 0 1 77.6 444)" class="xl">6</text><text transform="matrix(0.97 0 0 1 120.7 444)" class="xl">7</text><text transform="matrix(0.97 0 0 1 163.8 444)" class="xl">8</text><text transform="matrix(0.97 0 0 1 206.9 444)" class="xl">9</text><g transform="matrix(0.97 0 0 1 250 444)"><text class="xl"><tspan class="h">1</tspan>0</text><path d="M-2.892 0.000L-2.892 -5.738L-4.367 -4.685L-4.367 -5.474L-2.823 -6.536L-2.053 -6.536L-2.053 0.000Z" class="g1"/></g><g transform="matrix(0.97 0 0 1 293.1 444)"><text class="xl"><tspan class="h">1</tspan><tspan class="h">1</tspan></text><path d="M-2.892 0.000L-2.892 -5.738L-4.367 -4.685L-4.367 -5.474L-2.823 -6.536L-2.053 -6.536L-2.053 0.000ZM2.389 0.000L2.389 -5.738L0.914 -4.685L0.914 -5.474L2.458 -6.536L3.229 -6.536L3.229 0.000Z" class="g1"/></g><text transform="matrix(0.97 0 0 1 31.3 428.57)" class="yl">0</text><text transform="matrix(0.97 0 0 1 31.3 399.91)" class="yl">20</text><text transform="matrix(0.97 0 0 1 31.3 367.55)" class="yl">40</text><text transform="matrix(0.97 0 0 1 31.3 335.18)" class="yl">60</text><text transform="matrix(0.97 0 0 1 31.3 306.52)" class="yl">80</text><g transform="matrix(0.955 0 0 1 53.4 317)"><text class="tt">200009<tspan class="h">1</tspan>6</text><path d="M34.076 0.000L34.076 -5.738L32.601 -4.685L32.601 -5.474L34.146 -6.536L34.916 -6.536L34.916 0.000Z" class="g1"/></g><g clip-path="url(#c4)"><g class="dt" stroke-dashoffset="5.20"><line x1="64.4" y1="334.4" x2="90" y2="343.9"/><line x1="90" y1="343.9" x2="107.6" y2="350.43"/><line x1="107.6" y1="350.43" x2="150" y2="366.17"/><line x1="150" y1="366.17" x2="193.4" y2="382.28"/><line x1="193.4" y1="382.28" x2="236.1" y2="398.13"/><line x1="236.1" y1="398.13" x2="279.4" y2="414.2"/></g><path d="M60 325h8.8M64.4 320.6v8.8M60 320.6l8.8 8.8M60 329.4l8.8 -8.8M85.6 337.4h8.8M90 333v8.8M85.6 333l8.8 8.8M85.6 341.8l8.8 -8.8M103.2 357.4h8.8M107.6 353v8.8M103.2 353l8.8 8.8M103.2 361.8l8.8 -8.8M145.6 367h8.8M150 362.6v8.8M145.6 362.6l8.8 8.8M145.6 371.4l8.8 -8.8M189 400.6h8.8M193.4 396.2v8.8M189 396.2l8.8 8.8M189 405l8.8 -8.8M231.7 404.9h8.8M236.1 400.5v8.8M231.7 400.5l8.8 8.8M231.7 409.3l8.8 -8.8M275 397.3h8.8M279.4 392.9v8.8M275 392.9l8.8 8.8M275 401.7l8.8 -8.8" class="st"/><circle cx="64.4" cy="325" r="1.3" class="sc"/><circle cx="90" cy="337.4" r="1.3" class="sc"/><circle cx="107.6" cy="357.4" r="1.3" class="sc"/><circle cx="150" cy="367" r="1.3" class="sc"/><circle cx="193.4" cy="400.6" r="1.3" class="sc"/><circle cx="236.1" cy="404.9" r="1.3" class="sc"/><circle cx="279.4" cy="397.3" r="1.3" class="sc"/></g><text transform="translate(11.85 363.23) rotate(-90) scale(0.956 1)" class="at">CME Orientation, deg</text>
<rect x="337" y="298.4" width="258.5" height="129.45" class="ax"/><path d="M337 427.85v-2.59M337 298.4v2.59M353.16 427.85v-1.29M353.16 298.4v1.29M369.31 427.85v-1.29M369.31 298.4v1.29M385.47 427.85v-1.29M385.47 298.4v1.29M401.62 427.85v-2.59M401.62 298.4v2.59M417.78 427.85v-1.29M417.78 298.4v1.29M433.94 427.85v-1.29M433.94 298.4v1.29M450.09 427.85v-1.29M450.09 298.4v1.29M466.25 427.85v-2.59M466.25 298.4v2.59M482.41 427.85v-1.29M482.41 298.4v1.29M498.56 427.85v-1.29M498.56 298.4v1.29M514.72 427.85v-1.29M514.72 298.4v1.29M530.88 427.85v-2.59M530.88 298.4v2.59M547.03 427.85v-1.29M547.03 298.4v1.29M563.19 427.85v-1.29M563.19 298.4v1.29M579.34 427.85v-1.29M579.34 298.4v1.29M595.5 427.85v-2.59M595.5 298.4v2.59M337 427.85h5.17M595.5 427.85h-5.17M337 421.38h2.58M595.5 421.38h-2.58M337 414.91h2.58M595.5 414.91h-2.58M337 408.43h2.58M595.5 408.43h-2.58M337 401.96h2.58M595.5 401.96h-2.58M337 395.49h5.17M595.5 395.49h-5.17M337 389.01h2.58M595.5 389.01h-2.58M337 382.54h2.58M595.5 382.54h-2.58M337 376.07h2.58M595.5 376.07h-2.58M337 369.6h2.58M595.5 369.6h-2.58M337 363.12h5.17M595.5 363.12h-5.17M337 356.65h2.58M595.5 356.65h-2.58M337 350.18h2.58M595.5 350.18h-2.58M337 343.71h2.58M595.5 343.71h-2.58M337 337.24h2.58M595.5 337.24h-2.58M337 330.76h5.17M595.5 330.76h-5.17M337 324.29h2.58M595.5 324.29h-2.58M337 317.82h2.58M595.5 317.82h-2.58M337 311.34h2.58M595.5 311.34h-2.58M337 304.87h2.58M595.5 304.87h-2.58M337 298.4h5.17M595.5 298.4h-5.17" class="tk"/><g transform="matrix(0.97 0 0 1 337 444)"><text class="xl"><tspan class="h">1</tspan>4</text><path d="M-2.892 0.000L-2.892 -5.738L-4.367 -4.685L-4.367 -5.474L-2.823 -6.536L-2.053 -6.536L-2.053 0.000Z" class="g1"/></g><g transform="matrix(0.97 0 0 1 401.62 444)"><text class="xl"><tspan class="h">1</tspan>6</text><path d="M-2.892 0.000L-2.892 -5.738L-4.367 -4.685L-4.367 -5.474L-2.823 -6.536L-2.053 -6.536L-2.053 0.000Z" class="g1"/></g><g transform="matrix(0.97 0 0 1 466.25 444)"><text class="xl"><tspan class="h">1</tspan>8</text><path d="M-2.892 0.000L-2.892 -5.738L-4.367 -4.685L-4.367 -5.474L-2.823 -6.536L-2.053 -6.536L-2.053 0.000Z" class="g1"/></g><text transform="matrix(0.97 0 0 1 530.88 444)" class="xl">20</text><text transform="matrix(0.97 0 0 1 595.5 444)" class="xl">22</text><text transform="matrix(0.97 0 0 1 334 428.57)" class="yl">0</text><text transform="matrix(0.97 0 0 1 334 399.91)" class="yl">50</text><g transform="matrix(0.97 0 0 1 334 368)"><text class="yl"><tspan class="h">1</tspan>00</text><path d="M-13.455 0.000L-13.455 -5.738L-14.930 -4.685L-14.930 -5.474L-13.385 -6.536L-12.615 -6.536L-12.615 0.000Z" class="g1"/></g><g transform="matrix(0.97 0 0 1 334 335)"><text class="yl"><tspan class="h">1</tspan>50</text><path d="M-13.455 0.000L-13.455 -5.738L-14.930 -4.685L-14.930 -5.474L-13.385 -6.536L-12.615 -6.536L-12.615 0.000Z" class="g1"/></g><text transform="matrix(0.97 0 0 1 334 306.52)" class="yl">200</text><g transform="matrix(0.955 0 0 1 349.9 317)"><text class="tt"><tspan class="h">1</tspan>997<tspan class="h">1</tspan>206</text><path d="M2.389 0.000L2.389 -5.738L0.914 -4.685L0.914 -5.474L2.458 -6.536L3.229 -6.536L3.229 0.000ZM23.514 0.000L23.514 -5.738L22.039 -4.685L22.039 -5.474L23.583 -6.536L24.354 -6.536L24.354 0.000Z" class="g1"/></g><g clip-path="url(#c5)"><g class="dt" stroke-dashoffset="5.20"><line x1="388.4" y1="308.7" x2="422" y2="323.31"/><line x1="422" y1="323.31" x2="453.2" y2="336.88"/><line x1="453.2" y1="336.88" x2="485.2" y2="350.79"/><line x1="485.2" y1="350.79" x2="516.5" y2="364.4"/><line x1="516.5" y1="364.4" x2="549.8" y2="378.88"/><line x1="549.8" y1="378.88" x2="581.8" y2="392.8"/></g><path d="M384 319h8.8M388.4 314.6v8.8M384 314.6l8.8 8.8M384 323.4l8.8 -8.8M417.6 315.6h8.8M422 311.2v8.8M417.6 311.2l8.8 8.8M417.6 320l8.8 -8.8M448.8 348h8.8M453.2 343.6v8.8M448.8 343.6l8.8 8.8M448.8 352.4l8.8 -8.8M480.8 348.7h8.8M485.2 344.3v8.8M480.8 344.3l8.8 8.8M480.8 353.1l8.8 -8.8M512.1 347.5h8.8M516.5 343.1v8.8M512.1 343.1l8.8 8.8M512.1 351.9l8.8 -8.8M545.4 351h8.8M549.8 346.6v8.8M545.4 346.6l8.8 8.8M545.4 355.4l8.8 -8.8M577.85 425.25h8.8M582.25 420.85v8.8M577.85 420.85l8.8 8.8M577.85 429.65l8.8 -8.8" class="st"/><circle cx="388.4" cy="319" r="1.3" class="sc"/><circle cx="422" cy="315.6" r="1.3" class="sc"/><circle cx="453.2" cy="348" r="1.3" class="sc"/><circle cx="485.2" cy="348.7" r="1.3" class="sc"/><circle cx="516.5" cy="347.5" r="1.3" class="sc"/><circle cx="549.8" cy="351" r="1.3" class="sc"/><circle cx="582.25" cy="425.25" r="1.3" class="sc"/></g>
<rect x="34.5" y="446.8" width="258.6" height="129.65" class="ax"/><path d="M34.5 576.45v-2.59M34.5 446.8v2.59M39.67 576.45v-1.3M39.67 446.8v1.3M44.84 576.45v-1.3M44.84 446.8v1.3M50.02 576.45v-1.3M50.02 446.8v1.3M55.19 576.45v-1.3M55.19 446.8v1.3M60.36 576.45v-1.3M60.36 446.8v1.3M65.53 576.45v-1.3M65.53 446.8v1.3M70.7 576.45v-1.3M70.7 446.8v1.3M75.88 576.45v-1.3M75.88 446.8v1.3M81.05 576.45v-1.3M81.05 446.8v1.3M86.22 576.45v-2.59M86.22 446.8v2.59M91.39 576.45v-1.3M91.39 446.8v1.3M96.56 576.45v-1.3M96.56 446.8v1.3M101.74 576.45v-1.3M101.74 446.8v1.3M106.91 576.45v-1.3M106.91 446.8v1.3M112.08 576.45v-1.3M112.08 446.8v1.3M117.25 576.45v-1.3M117.25 446.8v1.3M122.42 576.45v-1.3M122.42 446.8v1.3M127.6 576.45v-1.3M127.6 446.8v1.3M132.77 576.45v-1.3M132.77 446.8v1.3M137.94 576.45v-2.59M137.94 446.8v2.59M143.11 576.45v-1.3M143.11 446.8v1.3M148.28 576.45v-1.3M148.28 446.8v1.3M153.46 576.45v-1.3M153.46 446.8v1.3M158.63 576.45v-1.3M158.63 446.8v1.3M163.8 576.45v-1.3M163.8 446.8v1.3M168.97 576.45v-1.3M168.97 446.8v1.3M174.14 576.45v-1.3M174.14 446.8v1.3M179.32 576.45v-1.3M179.32 446.8v1.3M184.49 576.45v-1.3M184.49 446.8v1.3M189.66 576.45v-2.59M189.66 446.8v2.59M194.83 576.45v-1.3M194.83 446.8v1.3M200 576.45v-1.3M200 446.8v1.3M205.18 576.45v-1.3M205.18 446.8v1.3M210.35 576.45v-1.3M210.35 446.8v1.3M215.52 576.45v-1.3M215.52 446.8v1.3M220.69 576.45v-1.3M220.69 446.8v1.3M225.86 576.45v-1.3M225.86 446.8v1.3M231.04 576.45v-1.3M231.04 446.8v1.3M236.21 576.45v-1.3M236.21 446.8v1.3M241.38 576.45v-2.59M241.38 446.8v2.59M246.55 576.45v-1.3M246.55 446.8v1.3M251.72 576.45v-1.3M251.72 446.8v1.3M256.9 576.45v-1.3M256.9 446.8v1.3M262.07 576.45v-1.3M262.07 446.8v1.3M267.24 576.45v-1.3M267.24 446.8v1.3M272.41 576.45v-1.3M272.41 446.8v1.3M277.58 576.45v-1.3M277.58 446.8v1.3M282.76 576.45v-1.3M282.76 446.8v1.3M287.93 576.45v-1.3M287.93 446.8v1.3M293.1 576.45v-2.59M293.1 446.8v2.59M34.5 576.45h5.17M293.1 576.45h-5.17M34.5 573.21h2.59M293.1 573.21h-2.59M34.5 569.97h2.59M293.1 569.97h-2.59M34.5 566.73h2.59M293.1 566.73h-2.59M34.5 563.49h2.59M293.1 563.49h-2.59M34.5 560.24h2.59M293.1 560.24h-2.59M34.5 557h2.59M293.1 557h-2.59M34.5 553.76h2.59M293.1 553.76h-2.59M34.5 550.52h2.59M293.1 550.52h-2.59M34.5 547.28h2.59M293.1 547.28h-2.59M34.5 544.04h5.17M293.1 544.04h-5.17M34.5 540.8h2.59M293.1 540.8h-2.59M34.5 537.56h2.59M293.1 537.56h-2.59M34.5 534.31h2.59M293.1 534.31h-2.59M34.5 531.07h2.59M293.1 531.07h-2.59M34.5 527.83h2.59M293.1 527.83h-2.59M34.5 524.59h2.59M293.1 524.59h-2.59M34.5 521.35h2.59M293.1 521.35h-2.59M34.5 518.11h2.59M293.1 518.11h-2.59M34.5 514.87h2.59M293.1 514.87h-2.59M34.5 511.62h5.17M293.1 511.62h-5.17M34.5 508.38h2.59M293.1 508.38h-2.59M34.5 505.14h2.59M293.1 505.14h-2.59M34.5 501.9h2.59M293.1 501.9h-2.59M34.5 498.66h2.59M293.1 498.66h-2.59M34.5 495.42h2.59M293.1 495.42h-2.59M34.5 492.18h2.59M293.1 492.18h-2.59M34.5 488.94h2.59M293.1 488.94h-2.59M34.5 485.7h2.59M293.1 485.7h-2.59M34.5 482.45h2.59M293.1 482.45h-2.59M34.5 479.21h5.17M293.1 479.21h-5.17M34.5 475.97h2.59M293.1 475.97h-2.59M34.5 472.73h2.59M293.1 472.73h-2.59M34.5 469.49h2.59M293.1 469.49h-2.59M34.5 466.25h2.59M293.1 466.25h-2.59M34.5 463.01h2.59M293.1 463.01h-2.59M34.5 459.76h2.59M293.1 459.76h-2.59M34.5 456.52h2.59M293.1 456.52h-2.59M34.5 453.28h2.59M293.1 453.28h-2.59M34.5 450.04h2.59M293.1 450.04h-2.59M34.5 446.8h5.17M293.1 446.8h-5.17" class="tk"/><g transform="matrix(0.97 0 0 1 34.5 592)"><text class="xl"><tspan class="h">1</tspan>8</text><path d="M-2.892 0.000L-2.892 -5.738L-4.367 -4.685L-4.367 -5.474L-2.823 -6.536L-2.053 -6.536L-2.053 0.000Z" class="g1"/></g><g transform="matrix(0.97 0 0 1 86.22 592)"><text class="xl"><tspan class="h">1</tspan>9</text><path d="M-2.892 0.000L-2.892 -5.738L-4.367 -4.685L-4.367 -5.474L-2.823 -6.536L-2.053 -6.536L-2.053 0.000Z" class="g1"/></g><text transform="matrix(0.97 0 0 1 137.94 592)" class="xl">20</text><g transform="matrix(0.97 0 0 1 189.66 592)"><text class="xl">2<tspan class="h">1</tspan></text><path d="M2.389 0.000L2.389 -5.738L0.914 -4.685L0.914 -5.474L2.458 -6.536L3.229 -6.536L3.229 0.000Z" class="g1"/></g><text transform="matrix(0.97 0 0 1 241.38 592)" class="xl">22</text><text transform="matrix(0.97 0 0 1 293.1 592)" class="xl">23</text><text transform="matrix(0.97 0 0 1 31.3 577.17)" class="yl">20</text><text transform="matrix(0.97 0 0 1 31.3 548.46)" class="yl">30</text><text transform="matrix(0.97 0 0 1 31.3 516.04)" class="yl">40</text><text transform="matrix(0.97 0 0 1 31.3 483.63)" class="yl">50</text><text transform="matrix(0.97 0 0 1 31.3 454.92)" class="yl">60</text><g transform="matrix(0.955 0 0 1 53.7 466)"><text class="tt"><tspan class="h">1</tspan>99908<tspan class="h">1</tspan>7</text><path d="M2.389 0.000L2.389 -5.738L0.914 -4.685L0.914 -5.474L2.458 -6.536L3.229 -6.536L3.229 0.000ZM34.076 0.000L34.076 -5.738L32.601 -4.685L32.601 -5.474L34.146 -6.536L34.916 -6.536L34.916 0.000Z" class="g1"/></g><g clip-path="url(#c6)"><g class="dt" stroke-dashoffset="5.20"><line x1="69.9" y1="562.9" x2="121.5" y2="533.34"/><line x1="121.5" y1="533.34" x2="152.5" y2="515.59"/><line x1="152.5" y1="515.59" x2="173.1" y2="503.79"/><line x1="173.1" y1="503.79" x2="204.6" y2="485.74"/><line x1="204.6" y1="485.74" x2="225" y2="474.06"/><line x1="225" y1="474.06" x2="256" y2="456.3"/></g><path d="M65.6 545.4h8.8M70 541v8.8M65.6 541l8.8 8.8M65.6 549.8l8.8 -8.8M117.1 542.7h8.8M121.5 538.3v8.8M117.1 538.3l8.8 8.8M117.1 547.1l8.8 -8.8M148.1 530.3h8.8M152.5 525.9v8.8M148.1 525.9l8.8 8.8M148.1 534.7l8.8 -8.8M168.7 511.3h8.8M173.1 506.9v8.8M168.7 506.9l8.8 8.8M168.7 515.7l8.8 -8.8M200.2 482.6h8.8M204.6 478.2v8.8M200.2 478.2l8.8 8.8M200.2 487l8.8 -8.8M220.6 464h8.8M225 459.6v8.8M220.6 459.6l8.8 8.8M220.6 468.4l8.8 -8.8M251.6 452.6h8.8M256 448.2v8.8M251.6 448.2l8.8 8.8M251.6 457l8.8 -8.8" class="st"/><circle cx="70" cy="545.4" r="1.3" class="sc"/><circle cx="121.5" cy="542.7" r="1.3" class="sc"/><circle cx="152.5" cy="530.3" r="1.3" class="sc"/><circle cx="173.1" cy="511.3" r="1.3" class="sc"/><circle cx="204.6" cy="482.6" r="1.3" class="sc"/><circle cx="225" cy="464" r="1.3" class="sc"/><circle cx="256" cy="452.6" r="1.3" class="sc"/></g><text transform="translate(11.85 511.73) rotate(-90) scale(0.956 1)" class="at">CME Orientation, deg</text><text transform="matrix(0.97 0 0 1 163.8 605.6)" class="at">Time, UT</text>
<rect x="337" y="446.8" width="258.5" height="129.65" class="ax"/><path d="M337 576.45v-2.59M337 446.8v2.59M342.17 576.45v-1.3M342.17 446.8v1.3M347.34 576.45v-1.3M347.34 446.8v1.3M352.51 576.45v-1.3M352.51 446.8v1.3M357.68 576.45v-1.3M357.68 446.8v1.3M362.85 576.45v-1.3M362.85 446.8v1.3M368.02 576.45v-1.3M368.02 446.8v1.3M373.19 576.45v-1.3M373.19 446.8v1.3M378.36 576.45v-1.3M378.36 446.8v1.3M383.53 576.45v-1.3M383.53 446.8v1.3M388.7 576.45v-2.59M388.7 446.8v2.59M393.87 576.45v-1.3M393.87 446.8v1.3M399.04 576.45v-1.3M399.04 446.8v1.3M404.21 576.45v-1.3M404.21 446.8v1.3M409.38 576.45v-1.3M409.38 446.8v1.3M414.55 576.45v-1.3M414.55 446.8v1.3M419.72 576.45v-1.3M419.72 446.8v1.3M424.89 576.45v-1.3M424.89 446.8v1.3M430.06 576.45v-1.3M430.06 446.8v1.3M435.23 576.45v-1.3M435.23 446.8v1.3M440.4 576.45v-2.59M440.4 446.8v2.59M445.57 576.45v-1.3M445.57 446.8v1.3M450.74 576.45v-1.3M450.74 446.8v1.3M455.91 576.45v-1.3M455.91 446.8v1.3M461.08 576.45v-1.3M461.08 446.8v1.3M466.25 576.45v-1.3M466.25 446.8v1.3M471.42 576.45v-1.3M471.42 446.8v1.3M476.59 576.45v-1.3M476.59 446.8v1.3M481.76 576.45v-1.3M481.76 446.8v1.3M486.93 576.45v-1.3M486.93 446.8v1.3M492.1 576.45v-2.59M492.1 446.8v2.59M497.27 576.45v-1.3M497.27 446.8v1.3M502.44 576.45v-1.3M502.44 446.8v1.3M507.61 576.45v-1.3M507.61 446.8v1.3M512.78 576.45v-1.3M512.78 446.8v1.3M517.95 576.45v-1.3M517.95 446.8v1.3M523.12 576.45v-1.3M523.12 446.8v1.3M528.29 576.45v-1.3M528.29 446.8v1.3M533.46 576.45v-1.3M533.46 446.8v1.3M538.63 576.45v-1.3M538.63 446.8v1.3M543.8 576.45v-2.59M543.8 446.8v2.59M548.97 576.45v-1.3M548.97 446.8v1.3M554.14 576.45v-1.3M554.14 446.8v1.3M559.31 576.45v-1.3M559.31 446.8v1.3M564.48 576.45v-1.3M564.48 446.8v1.3M569.65 576.45v-1.3M569.65 446.8v1.3M574.82 576.45v-1.3M574.82 446.8v1.3M579.99 576.45v-1.3M579.99 446.8v1.3M585.16 576.45v-1.3M585.16 446.8v1.3M590.33 576.45v-1.3M590.33 446.8v1.3M595.5 576.45v-2.59M595.5 446.8v2.59M337 576.45h5.17M595.5 576.45h-5.17M337 567.81h2.58M595.5 567.81h-2.58M337 559.16h2.58M595.5 559.16h-2.58M337 550.52h2.58M595.5 550.52h-2.58M337 541.88h2.58M595.5 541.88h-2.58M337 533.23h5.17M595.5 533.23h-5.17M337 524.59h2.58M595.5 524.59h-2.58M337 515.95h2.58M595.5 515.95h-2.58M337 507.3h2.58M595.5 507.3h-2.58M337 498.66h2.58M595.5 498.66h-2.58M337 490.02h5.17M595.5 490.02h-5.17M337 481.37h2.58M595.5 481.37h-2.58M337 472.73h2.58M595.5 472.73h-2.58M337 464.09h2.58M595.5 464.09h-2.58M337 455.44h2.58M595.5 455.44h-2.58M337 446.8h5.17M595.5 446.8h-5.17" class="tk"/><g transform="matrix(0.97 0 0 1 337 592)"><text class="xl"><tspan class="h">1</tspan><tspan class="h">1</tspan></text><path d="M-2.892 0.000L-2.892 -5.738L-4.367 -4.685L-4.367 -5.474L-2.823 -6.536L-2.053 -6.536L-2.053 0.000ZM2.389 0.000L2.389 -5.738L0.914 -4.685L0.914 -5.474L2.458 -6.536L3.229 -6.536L3.229 0.000Z" class="g1"/></g><g transform="matrix(0.97 0 0 1 388.7 592)"><text class="xl"><tspan class="h">1</tspan>2</text><path d="M-2.892 0.000L-2.892 -5.738L-4.367 -4.685L-4.367 -5.474L-2.823 -6.536L-2.053 -6.536L-2.053 0.000Z" class="g1"/></g><g transform="matrix(0.97 0 0 1 440.4 592)"><text class="xl"><tspan class="h">1</tspan>3</text><path d="M-2.892 0.000L-2.892 -5.738L-4.367 -4.685L-4.367 -5.474L-2.823 -6.536L-2.053 -6.536L-2.053 0.000Z" class="g1"/></g><g transform="matrix(0.97 0 0 1 492.1 592)"><text class="xl"><tspan class="h">1</tspan>4</text><path d="M-2.892 0.000L-2.892 -5.738L-4.367 -4.685L-4.367 -5.474L-2.823 -6.536L-2.053 -6.536L-2.053 0.000Z" class="g1"/></g><g transform="matrix(0.97 0 0 1 543.8 592)"><text class="xl"><tspan class="h">1</tspan>5</text><path d="M-2.892 0.000L-2.892 -5.738L-4.367 -4.685L-4.367 -5.474L-2.823 -6.536L-2.053 -6.536L-2.053 0.000Z" class="g1"/></g><g transform="matrix(0.97 0 0 1 595.5 592)"><text class="xl"><tspan class="h">1</tspan>6</text><path d="M-2.892 0.000L-2.892 -5.738L-4.367 -4.685L-4.367 -5.474L-2.823 -6.536L-2.053 -6.536L-2.053 0.000Z" class="g1"/></g><text transform="matrix(0.97 0 0 1 334 577.17)" class="yl">35</text><text transform="matrix(0.97 0 0 1 334 537.65)" class="yl">40</text><text transform="matrix(0.97 0 0 1 334 494.44)" class="yl">45</text><text transform="matrix(0.97 0 0 1 334 454.92)" class="yl">50</text><g transform="matrix(0.955 0 0 1 349.9 466)"><text class="tt"><tspan class="h">1</tspan>9980427</text><path d="M2.389 0.000L2.389 -5.738L0.914 -4.685L0.914 -5.474L2.458 -6.536L3.229 -6.536L3.229 0.000Z" class="g1"/></g><g clip-path="url(#c7)"><g class="dt" stroke-dashoffset="5.20"><line x1="374.8" y1="554.85" x2="476.5" y2="504.77"/><line x1="476.5" y1="504.77" x2="528" y2="479.41"/><line x1="528" y1="479.41" x2="578.7" y2="454.45"/></g><path d="M370.4 558.5h8.8M374.8 554.1v8.8M370.4 554.1l8.8 8.8M370.4 562.9l8.8 -8.8M472.1 501.9h8.8M476.5 497.5v8.8M472.1 497.5l8.8 8.8M472.1 506.3l8.8 -8.8M523.6 469.8h8.8M528 465.4v8.8M523.6 465.4l8.8 8.8M523.6 474.2l8.8 -8.8M574.3 462.75h8.8M578.7 458.35v8.8M574.3 458.35l8.8 8.8M574.3 467.15l8.8 -8.8" class="st"/><circle cx="374.8" cy="558.5" r="1.3" class="sc"/><circle cx="476.5" cy="501.9" r="1.3" class="sc"/><circle cx="528" cy="469.8" r="1.3" class="sc"/><circle cx="578.7" cy="462.75" r="1.3" class="sc"/></g><text transform="matrix(0.97 0 0 1 466.25 605.6)" class="at">Time, UT</text>
</g>
</svg></div></body></html>
